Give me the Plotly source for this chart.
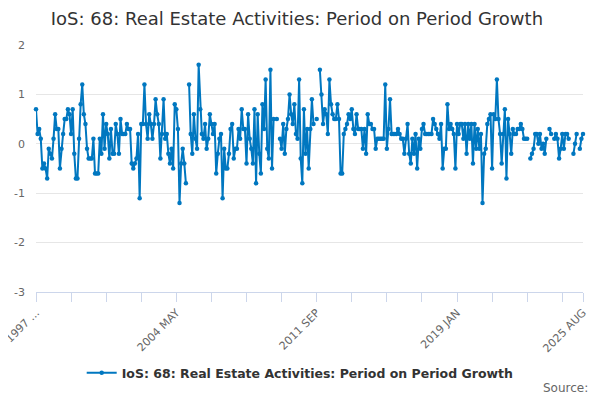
import plotly.graph_objects as go

MONTHS = ["JAN", "FEB", "MAR", "APR", "MAY", "JUN", "JUL", "AUG", "SEP", "OCT", "NOV", "DEC"]
categories = [f"{y} {m}" for y in range(1997, 2026) for m in MONTHS][:344]

N = None
growth = [
    # 1997
    0.7, 0.2, 0.3, 0.1, -0.5, -0.4, -0.5, -0.7, -0.1, -0.2, -0.3, 0.1,
    # 1998
    0.6, 0.3, 0.3, -0.5, -0.1, 0.2, 0.5, 0.5, 0.7, 0.6, 0.2, 0.7,
    # 1999
    -0.2, -0.7, -0.7, 0.1, 0.8, 1.2, 0.6, 0.4, -0.1, -0.3, -0.3, -0.3,
    # 2000
    0.1, -0.6, -0.6, -0.6, 0.1, -0.2, 0.6, -0.1, 0.4, 0.2, -0.3, 0.3,
    # 2001
    -0.2, -0.2, 0.4, 0.2, -0.2, 0.5, 0.2, 0.2, 0.2, 0.4, 0.3, 0.3,
    # 2002
    -0.4, -0.5, -0.4, -0.3, 0.2, -1.1, 0.4, 0.4, 1.2, 0.4, 0.1, 0.6,
    # 2003
    0.4, 0.1, 0.4, 0.9, 0.6, 0.4, -0.3, 0.2, 0.9, 0.1, 0.2, -0.2,
    # 2004
    -0.4, -0.1, -0.5, 0.8, 0.7, 0.3, -1.2, -0.4, -0.1, -0.4, -0.8, N,
    # 2005
    1.2, 0.2, -0.2, 0.6, 0.1, -0.1, 1.6, 0.7, 0.2, 0.1, 0.4, -0.1,
    # 2006
    0.1, 0.6, 0.4, 0.2, 0.4, -0.6, -0.2, 0.1, 0.2, -1.1, -0.1, -0.5,
    # 2007
    -0.5, -0.2, 0.3, 0.4, -0.3, -0.1, -0.1, 0.3, 0.1, 0.7, 0.3, 0.3,
    # 2008
    -0.4, 0.6, 0.1, -0.1, -0.4, 0.7, -0.8, 0.6, -0.2, -0.6, 0.8, 0.3,
    # 2009
    1.3, -0.1, -0.3, 1.5, -0.5, 0.5, N, 0.5, N, 0.1, -0.1, 0.4,
    # 2010
    -0.2, 0.3, 0.5, 1.0, 0.6, 0.4, 0.8, 0.2, 0.1, 1.3, -0.3, -0.8,
    # 2011
    0.7, -0.2, 0.3, -0.5, 0.3, 0.9, 0.4, N, 0.5, N, 1.5, 1.0,
    # 2012
    0.4, 0.7, 0.6, 0.2, 1.3, 0.8, 0.6, 0.5, 0.5, 0.8, 0.5, -0.6,
    # 2013
    -0.6, 0.2, 0.3, 0.4, 0.6, 0.5, 0.7, 0.3, 0.2, 0.6, 0.3, 0.3,
    # 2014
    0.3, -0.1, 0.3, -0.2, 0.6, 0.4, 0.4, 0.3, 0.3, -0.1, 0.1, 0.1,
    # 2015
    0.1, 0.1, 0.1, 1.2, -0.1, 0.3, 0.9, 0.2, 0.2, 0.2, 0.2, 0.3,
    # 2016
    0.2, 0.1, 0.1, -0.2, 0.1, 0.4, -0.2, -0.4, 0.1, -0.2, 0.2, -0.5,
    # 2017
    0.1, -0.1, 0.3, 0.4, 0.2, 0.2, 0.2, 0.2, 0.2, 0.5, 0.4, 0.3,
    # 2018
    0.2, 0.1, 0.4, -0.5, -0.1, -0.1, 0.8, 0.3, 0.4, 0.3, 0.2, -0.5,
    # 2019
    0.4, 0.2, 0.4, 0.4, 0.1, 0.4, -0.2, 0.4, 0.1, 0.4, -0.4, 0.4,
    # 2020
    -0.1, 0.3, -0.1, 0.2, -1.2, -0.2, -0.1, 0.4, 0.5, 0.6, -0.5, 0.6,
    # 2021
    0.5, 1.3, 0.5, 0.2, -0.4, 0.2, 0.7, -0.7, 0.5, 0.2, -0.2, 0.3,
    # 2022
    0.2, 0.2, 0.3, 0.3, 0.4, 0.3, 0.1, 0.1, 0.1, N, -0.3, -0.2,
    # 2023
    -0.1, 0.2, 0.2, 0.0, 0.2, -0.1, 0.0, -0.2, 0.1, N, 0.3, 0.2,
    # 2024
    N, 0.1, 0.2, 0.1, -0.3, -0.1, 0.2, -0.1, 0.2, 0.2, 0.1, N,
    # 2025
    N, -0.2, 0.0, 0.2, N, -0.1, 0.1, 0.2,
]

tick_idx = list(range(0, 343, 22)) + [343]
tick_labels = {0: "1997 ...", 88: "2004 MAY", 176: "2011 SEP", 264: "2019 JAN", 343: "2025 AUG"}
tickvals = [categories[i] for i in tick_idx]
ticktext = [tick_labels.get(i, "") for i in tick_idx]

y_tickvals = [-3, -2, -1, 0, 1, 2]
y_ticktext = ["-3", "-2", "-1", "0", "1", "2"]

series_name = "IoS: 68: Real Estate Activities: Period on Period Growth"
color = "#0077c0"
font = "DejaVu Sans"

fig = go.Figure()
fig.add_trace(go.Scatter(
    x=categories, y=growth, mode="lines+markers", name=series_name,
    line=dict(color=color, width=2), marker=dict(color=color, size=4.5),
    connectgaps=False, cliponaxis=False,
))

fig.update_layout(
    width=592, height=392,
    paper_bgcolor="white", plot_bgcolor="white",
    margin=dict(l=28, r=17, t=37, b=108, autoexpand=False),
    font=dict(family=font, color="#666666", size=11),
    title=dict(text=series_name, x=0.488, xref="container", y=0.974, yref="container",
               xanchor="center", yanchor="middle",
               font=dict(family=font, size=18, color="#333333")),
    showlegend=True,
    legend=dict(orientation="h", x=0.483, xanchor="center", y=-0.328, yanchor="middle",
                font=dict(family=font, size=12.5, color="#333333", weight="bold"),
                itemwidth=30),
    xaxis=dict(type="category", range=[0, 343], tickmode="array",
               tickvals=tickvals, ticktext=ticktext, tickangle=-45,
               ticks="outside", ticklen=9, tickcolor="#ccd6eb", tickwidth=1,
               showline=True, linecolor="#ccd6eb", linewidth=1,
               showgrid=False, zeroline=False, automargin=False,
               tickfont=dict(family=font, size=11, color="#666666")),
    yaxis=dict(range=[-3, 2], tickmode="array", tickvals=y_tickvals, ticktext=y_ticktext,
               showgrid=True, gridcolor="#e6e6e6",
               gridwidth=1, zeroline=False, showline=False, automargin=False,
               ticklabelstandoff=10,
               tickfont=dict(family=font, size=11, color="#666666")),
    annotations=[dict(text="Source:", xref="paper", yref="paper", x=1.013, y=-0.389,
                      xanchor="right", yanchor="middle", showarrow=False,
                      font=dict(family=font, size=12, color="#666666"))],
)

fig.write_html("out.html")
